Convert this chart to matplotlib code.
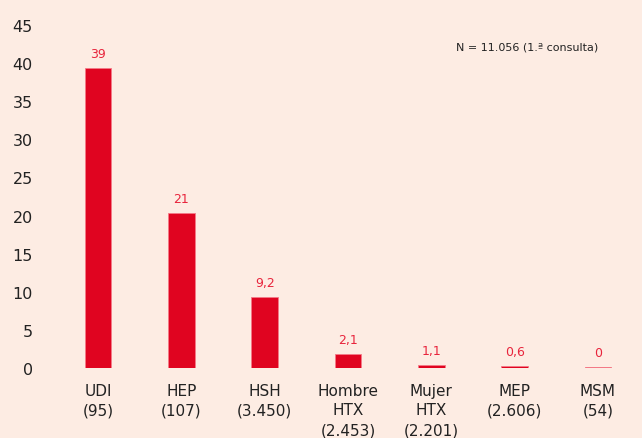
import numpy as np
import matplotlib
matplotlib.use("Agg")
from matplotlib import pyplot as plt

# data
groups = ["UDI\n(95)", "HEP\n(107)", "HSH\n(3.450)", "Hombre\nHTX\n(2.453)",
          "Mujer\nHTX\n(2.201)", "MEP\n(2.606)", "MSM\n(54)"]
values = [39.3, 20.3, 9.3, 1.8, 0.4, 0.2, 0.1]
value_labels = ["39", "21", "9,2", "2,1", "1,1", "0,6", "0"]
yticks = [0, 5, 10, 15, 20, 25, 30, 35, 40, 45]
note = "N = 11.056 (1.ª consulta)"

bg = "#FDECE3"
bar_col = "#E00420"
lab_col = "#E8243C"
txt_col = "#222222"

fig = plt.figure(figsize=(6.42, 4.39), dpi=100, facecolor=bg)
ax = fig.add_axes([56.5 / 642, 70 / 439, 583 / 642, 343 / 439])
ax.set_facecolor(bg)

x = np.arange(len(groups))
bars = ax.bar(x, values, width=0.32, color=bar_col, edgecolor="#F47A88", linewidth=0.6)

for xi, v, lab in zip(x, values, value_labels):
    ax.annotate(lab, (xi, v), xytext=(0, 6), textcoords="offset points",
                ha="center", va="bottom", fontsize=9, color=lab_col)

ax.set_xlim(-0.5, len(groups) - 0.5)
ax.set_ylim(0, 45)
ax.set_yticks(yticks)
ax.set_xticks(x)
ax.set_xticklabels(groups, fontsize=11, color=txt_col, linespacing=1.4)
ax.tick_params(axis="y", length=0, pad=17, labelsize=11.5, labelcolor=txt_col)
ax.tick_params(axis="x", length=0, pad=10.5)
for s in ax.spines.values():
    s.set_visible(False)

fig.text(527 / 642, 1 - 47 / 439, note, ha="center", va="center", fontsize=8, color=txt_col)

fig.savefig("out.png", dpi=100, facecolor=bg)
